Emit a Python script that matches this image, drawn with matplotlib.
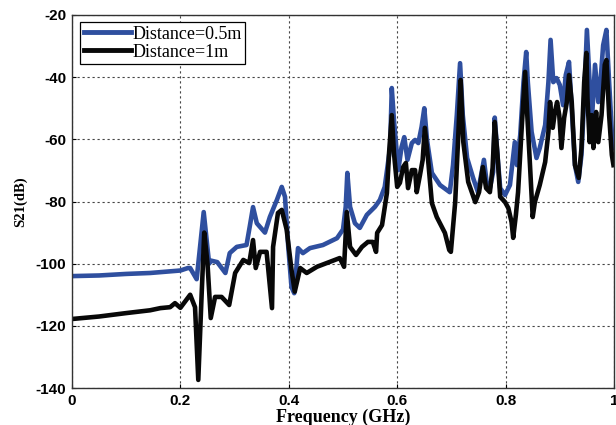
import matplotlib
matplotlib.use('Agg')
import matplotlib.pyplot as plt

plt.rcParams['axes.unicode_minus'] = False

# S21 measured at two antenna distances
freq_05 = [0.0, 0.05, 0.1, 0.144, 0.193, 0.2, 0.214, 0.218, 0.23, 0.243, 0.253, 0.256, 0.268, 0.283,
           0.291, 0.304, 0.322, 0.328, 0.334, 0.341, 0.356, 0.365, 0.378, 0.387, 0.393, 0.399, 0.405,
           0.41, 0.417, 0.426, 0.439, 0.463, 0.489, 0.5, 0.505, 0.508, 0.513, 0.522, 0.531, 0.544,
           0.559, 0.568, 0.577, 0.587, 0.59, 0.594, 0.602, 0.608, 0.613, 0.619, 0.627, 0.633, 0.639,
           0.645, 0.65, 0.655, 0.664, 0.679, 0.697, 0.703, 0.71, 0.716, 0.721, 0.729, 0.74, 0.749,
           0.76, 0.765, 0.771, 0.777, 0.78, 0.785, 0.79, 0.799, 0.808, 0.817, 0.821, 0.827, 0.833,
           0.838, 0.841, 0.848, 0.857, 0.863, 0.873, 0.879, 0.883, 0.888, 0.894, 0.9, 0.906, 0.911,
           0.917, 0.922, 0.928, 0.934, 0.94, 0.945, 0.95, 0.955, 0.959, 0.965, 0.971, 0.975, 0.98,
           0.986, 0.991, 0.996, 1.0]
s21_05 = [-104.0, -103.8, -103.3, -103.0, -102.3, -102.2, -101.4, -101.4, -105.0, -83.4, -100.0, -99.0,
          -99.5, -103.0, -96.6, -94.6, -94.0, -88.0, -81.8, -87.0, -90.0, -85.0, -79.5, -75.3, -78.5,
          -94.6, -107.5, -109.5, -95.0, -96.6, -95.0, -94.0, -91.8, -89.0, -81.7, -70.8, -81.7, -87.0,
          -88.5, -84.3, -81.7, -79.5, -75.3, -62.5, -43.5, -53.8, -69.9, -62.5, -59.3, -66.6, -61.2,
          -60.2, -61.2, -56.0, -50.0, -60.2, -70.8, -74.7, -77.0, -68.3, -52.2, -35.5, -52.2, -66.0,
          -72.4, -77.0, -66.6, -73.7, -75.7, -70.5, -53.0, -65.0, -75.7, -77.9, -74.7, -60.9, -68.3,
          -58.6, -41.6, -31.9, -41.6, -57.6, -66.0, -62.8, -55.4, -41.6, -28.0, -41.6, -40.3, -42.5,
          -49.0, -39.3, -35.1, -50.0, -68.3, -73.7, -65.0, -46.7, -24.8, -41.6, -54.4, -36.0, -48.0,
          -41.6, -29.7, -24.8, -41.6, -57.6, -62.8]

freq_1 = [0.0, 0.05, 0.1, 0.144, 0.163, 0.181, 0.19, 0.2, 0.218, 0.227, 0.233, 0.239, 0.244, 0.25,
          0.256, 0.264, 0.276, 0.29, 0.301, 0.316, 0.327, 0.334, 0.339, 0.347, 0.359, 0.369, 0.371,
          0.38, 0.387, 0.396, 0.405, 0.411, 0.421, 0.433, 0.452, 0.47, 0.494, 0.502, 0.507, 0.513,
          0.524, 0.535, 0.546, 0.555, 0.561, 0.563, 0.572, 0.581, 0.585, 0.59, 0.594, 0.6, 0.605,
          0.611, 0.616, 0.62, 0.627, 0.633, 0.636, 0.642, 0.647, 0.651, 0.657, 0.664, 0.673, 0.688,
          0.696, 0.699, 0.707, 0.713, 0.717, 0.722, 0.731, 0.744, 0.751, 0.758, 0.764, 0.771, 0.776,
          0.78, 0.785, 0.79, 0.799, 0.805, 0.811, 0.814, 0.819, 0.823, 0.83, 0.836, 0.84, 0.845,
          0.85, 0.854, 0.863, 0.873, 0.879, 0.882, 0.887, 0.891, 0.895, 0.899, 0.903, 0.908, 0.913,
          0.917, 0.922, 0.928, 0.935, 0.94, 0.945, 0.949, 0.951, 0.955, 0.959, 0.962, 0.967, 0.971,
          0.977, 0.983, 0.986, 0.991, 0.996, 0.999]
s21_1 = [-117.8, -117.0, -115.9, -115.0, -114.3, -114.0, -112.7, -114.2, -110.0, -114.0, -137.4, -110.7,
         -90.0, -100.0, -117.5, -110.7, -110.7, -113.3, -103.0, -98.8, -99.8, -92.4, -101.4, -96.2,
         -96.2, -114.3, -94.6, -83.7, -82.7, -89.0, -102.0, -109.0, -101.4, -103.0, -101.0, -99.8,
         -98.2, -101.0, -83.4, -94.6, -97.2, -94.6, -93.0, -93.0, -96.2, -90.1, -87.6, -77.3, -64.4,
         -52.2, -64.4, -75.3, -74.0, -68.9, -67.6, -75.7, -69.9, -69.9, -77.0, -71.5, -66.6, -56.3,
         -66.6, -80.5, -85.0, -90.1, -95.6, -96.2, -80.2, -57.6, -40.9, -60.9, -73.7, -80.2, -77.0,
         -68.9, -75.7, -77.0, -69.2, -54.4, -65.0, -78.5, -80.2, -82.1, -86.6, -91.7, -84.3, -77.0,
         -55.4, -38.3, -52.2, -68.3, -85.0, -80.2, -74.7, -67.3, -57.6, -48.0, -56.3, -51.2, -48.0,
         -52.2, -62.8, -53.1, -48.0, -39.3, -48.0, -68.3, -72.4, -62.8, -41.6, -32.2, -46.7, -60.9,
         -52.2, -62.8, -51.2, -60.9, -52.2, -36.0, -34.5, -52.2, -65.0, -68.3]

labels = ['Distance=0.5m', 'Distance=1m']
x_ticks = [0, 0.2, 0.4, 0.6, 0.8, 1]
x_tick_labels = ['0', '0.2', '0.4', '0.6', '0.8', '1']
y_ticks = [-140, -120, -100, -80, -60, -40, -20]

fig = plt.figure(figsize=(6.16, 4.25), dpi=100)
ax = fig.add_axes([72 / 616, 1 - 388 / 425, 542 / 616, 373 / 425])

ax.plot(freq_05, s21_05, color='#2f4f9f', linewidth=3.3, label=labels[0])
ax.plot(freq_1, s21_1, color='#080808', linewidth=3.3, label=labels[1])

ax.set_xlim(0, 1)
ax.set_ylim(-140, -20)
ax.set_xticks(x_ticks)
ax.set_xticklabels(x_tick_labels)
ax.set_yticks(y_ticks)
ax.tick_params(direction='in', length=3, width=0.8, pad=4, labelsize=11)
for lab in ax.get_xticklabels() + ax.get_yticklabels():
    lab.set_fontfamily('Liberation Sans')
    lab.set_fontweight('bold')

ax.grid(True, color='#444444', linestyle=(0, (2, 2.5)), linewidth=0.8)
for sp in ax.spines.values():
    sp.set_color('#333333')
    sp.set_linewidth(1.0)

ax.set_xlabel('Frequency (GHz)', fontfamily='Liberation Serif', fontweight='bold',
              fontsize=13, labelpad=1)
ax.set_ylabel('S21(dB)', fontfamily='Liberation Serif', fontweight='bold',
              fontsize=10.5, labelpad=6)

leg = ax.legend(loc='upper left', bbox_to_anchor=(8 / 542, 1 - 7 / 373), borderaxespad=0,
                prop={'family': 'Liberation Serif', 'size': 13},
                handlelength=2.6, handletextpad=0.1, labelspacing=0.05, borderpad=0.2,
                fancybox=False, framealpha=1)
leg.get_frame().set_edgecolor('black')
leg.get_frame().set_linewidth(0.9)
for line in leg.get_lines():
    line.set_linewidth(3.5)

fig.savefig('out.png', dpi=100)
